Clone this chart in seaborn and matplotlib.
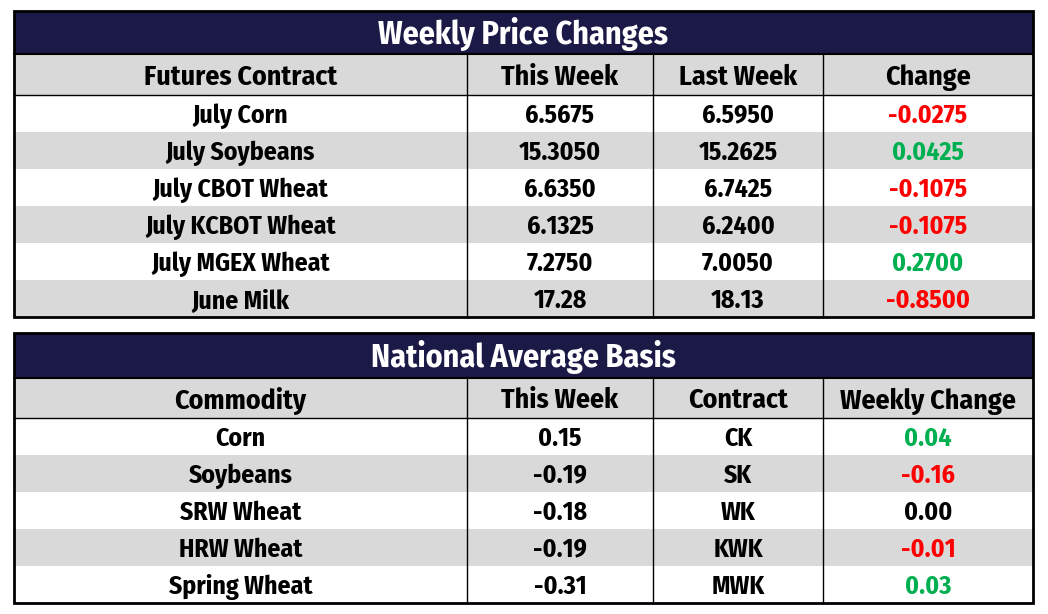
import matplotlib
matplotlib.use("Agg")
import matplotlib.pyplot as plt
import matplotlib.patches as mpatches
import seaborn as sns

# ---- data ----
price_title = "Weekly Price Changes"
price_cols = ["Futures Contract", "This Week", "Last Week", "Change"]
contracts = ["July Corn", "July Soybeans", "July CBOT Wheat", "July KCBOT Wheat",
             "July MGEX Wheat", "June Milk"]
this_week = ["6.5675", "15.3050", "6.6350", "6.1325", "7.2750", "17.28"]
last_week = ["6.5950", "15.2625", "6.7425", "6.2400", "7.0050", "18.13"]
change = [-0.0275, 0.0425, -0.1075, -0.1075, 0.2700, -0.8500]

basis_title = "National Average Basis"
basis_cols = ["Commodity", "This Week", "Contract", "Weekly Change"]
commodities = ["Corn", "Soybeans", "SRW Wheat", "HRW Wheat", "Spring Wheat"]
basis_this = ["0.15", "-0.19", "-0.18", "-0.19", "-0.31"]
basis_contract = ["CK", "SK", "WK", "KWK", "MWK"]
basis_change = [0.04, -0.16, 0.00, -0.01, 0.03]

sns.set_theme(style="white")
plt.rcParams['font.family'] = ['Fira Sans Condensed', 'Barlow Semi Condensed', 'Carlito', 'DejaVu Sans']

NAVY = "#1b1a47"
GRAY = "#d9d9d9"
RED = "#ff0000"
GREEN = "#00b050"

fig = plt.figure(figsize=(10.48, 6.14), dpi=100)
ax = fig.add_axes([0, 0, 1, 1])
ax.set_xlim(0, 1048)
ax.set_ylim(614, 0)
ax.axis("off")

left, right = 14, 1033
col_edges = [left, 467, 653, 823, right]


def val_color(v):
    if v > 0:
        return GREEN
    if v < 0:
        return RED
    return "black"


def draw_table(top, title_h, head_h, row_h, title, cols, rows, colors):
    # title bar
    ax.add_patch(mpatches.Rectangle((left, top), right - left, title_h,
                                    facecolor=NAVY, edgecolor="none"))
    ax.text((left + right) / 2, top + title_h / 2 - 2, title, color="white",
            fontsize=23, fontweight="bold", ha="center", va="center_baseline")
    y = top + title_h
    ax.plot([left, right], [y, y], color="black", lw=1.5)
    # header
    ax.add_patch(mpatches.Rectangle((left, y), right - left, head_h,
                                    facecolor=GRAY, edgecolor="none"))
    for i, c in enumerate(cols):
        ax.text((col_edges[i] + col_edges[i + 1]) / 2, y + head_h / 2, c,
                fontsize=20, fontweight="bold", ha="center", va="center_baseline", color="black")
    y += head_h
    ax.plot([left, right], [y, y], color="black", lw=1)
    # rows
    for r, row in enumerate(rows):
        if r % 2 == 1:
            ax.add_patch(mpatches.Rectangle((left, y), right - left, row_h,
                                            facecolor=GRAY, edgecolor="none"))
        for i, cell in enumerate(row):
            ax.text((col_edges[i] + col_edges[i + 1]) / 2, y + row_h / 2 - 0.5, cell,
                    fontsize=18.5, fontweight="bold", ha="center", va="center_baseline",
                    color=colors[r] if i == 3 else "black")
        y += row_h
    bottom = y
    # vertical dividers
    for xe in col_edges[1:-1]:
        ax.plot([xe, xe], [top + title_h, bottom], color="black", lw=1)
    # outer frame
    ax.add_patch(mpatches.Rectangle((left, top), right - left, bottom - top,
                                    facecolor="none", edgecolor="black", lw=2))


price_rows = [[contracts[i], this_week[i], last_week[i], f"{change[i]:.4f}"]
              for i in range(len(contracts))]
draw_table(11, 43, 41, 37, price_title, price_cols, price_rows,
           [val_color(v) for v in change])

basis_rows = [[commodities[i], basis_this[i], basis_contract[i], f"{basis_change[i]:.2f}"]
              for i in range(len(commodities))]
draw_table(333, 45, 40, 37, basis_title, basis_cols, basis_rows,
           [val_color(v) for v in basis_change])

fig.savefig("out.png", dpi=100, facecolor="white")
